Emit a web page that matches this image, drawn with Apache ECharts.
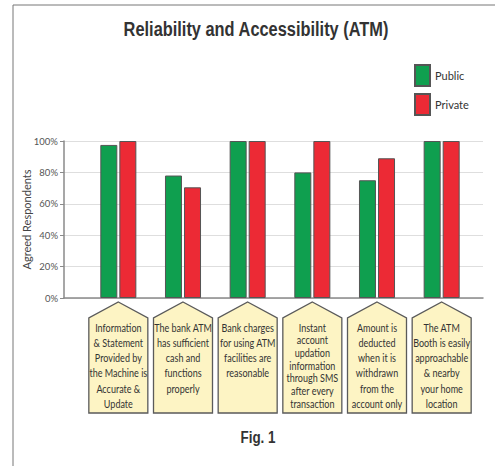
<!DOCTYPE html>
<html>
<head>
<meta charset="utf-8">
<script src="https://cdn.jsdelivr.net/npm/echarts@6/dist/echarts.min.js"></script>
<style>
html,body{margin:0;padding:0;background:#fff;}
#chart{width:497px;height:466px;}
</style>
</head>
<body>
<div id="chart"></div>
<script>
const categories = [
  "Information\n& Statement\nProvided by\nthe Machine is\nAccurate &\nUpdate",
  "The bank ATM\nhas sufficient\ncash and\nfunctions\nproperly",
  "Bank charges\nfor using ATM\nfacilities are\nreasonable",
  "Instant\naccount\nupdation\ninformation\nthrough SMS\nafter every\ntransaction",
  "Amount is\ndeducted\nwhen it is\nwithdrawn\nfrom the\naccount only",
  "The ATM\nBooth is easily\napproachable\n& nearby\nyour home\nlocation"
];
const publicValues = [97.5, 78, 100, 80, 75, 100];
const privateValues = [100, 70.5, 100, 100, 89, 100];
const yTicks = [0, 20, 40, 60, 80, 100];

const GREEN = '#0f9f4f';
const RED = '#ec2a35';
const SANS = "'Liberation Sans',Arial,sans-serif";
const BODY = "Lato,'Open Sans',sans-serif";

const chart = echarts.init(document.getElementById('chart'), null, {renderer: 'svg'});
chart.setOption({
  animation: false,
  backgroundColor: '#fff',
  legend: {
    data: ['Public', 'Private'],
    orient: 'vertical', left: 414, top: 64, padding: 0,
    itemWidth: 15, itemHeight: 21, itemGap: 6,
    icon: 'rect',
    textStyle: {fontFamily: BODY, fontSize: 11, color: '#333'}
  },
  graphic: [
    {type: 'line', shape: {x1: 13, y1: 5, x2: 495, y2: 5}, style: {stroke: '#777', lineWidth: 1}},
    {type: 'line', shape: {x1: 13, y1: 5, x2: 13, y2: 466}, style: {stroke: '#777', lineWidth: 1}},
    {type: 'text', x: 256, y: 29, scaleX: 0.78,
     style: {text: 'Reliability and Accessibility (ATM)', align: 'center', verticalAlign: 'middle',
             fontFamily: SANS, fontSize: 21, fontWeight: 'bold', fill: '#333'}},
    {type: 'text', x: 258, y: 437, scaleX: 0.79,
     style: {text: 'Fig. 1', align: 'center', verticalAlign: 'middle',
             fontFamily: SANS, fontSize: 17, fontWeight: 'bold', fill: '#333'}}
  ],
  grid: [
    {left: 64, top: 141, width: 419, height: 157},
    {left: 86, top: 141, width: 388, height: 157}
  ],
  xAxis: [
    {gridIndex: 0, type: 'value', min: 0, max: 1,
     axisLine: {show: true, lineStyle: {color: '#8a8a8a', width: 1.5}},
     axisTick: {show: false}, axisLabel: {show: false}, splitLine: {show: false}},
    {gridIndex: 1, type: 'category', data: categories,
     axisLine: {show: false}, axisTick: {show: false}, axisLabel: {show: false}}
  ],
  yAxis: [
    {gridIndex: 0, type: 'value', min: yTicks[0], max: yTicks[yTicks.length - 1], interval: 20,
     name: 'Agreed Respondents', nameLocation: 'middle', nameGap: 32, nameMoveOverlap: false,
     nameTextStyle: {fontFamily: BODY, fontSize: 11, color: '#444'},
     axisLine: {show: true, lineStyle: {color: '#8a8a8a', width: 1.5}},
     axisTick: {show: true, length: 4, lineStyle: {color: '#8a8a8a'}},
     axisLabel: {formatter: '{value}%', fontFamily: BODY, fontSize: 9.5, color: '#555', margin: 6},
     splitLine: {show: true, lineStyle: {color: '#dedede', width: 1}}},
    {gridIndex: 1, type: 'value', min: 0, max: 100, show: false}
  ],
  series: [
    {name: 'Public', type: 'bar', xAxisIndex: 1, yAxisIndex: 1, data: publicValues,
     barWidth: 17, barGap: '12%',
     itemStyle: {color: GREEN, borderColor: '#555', borderWidth: 1}},
    {name: 'Private', type: 'bar', xAxisIndex: 1, yAxisIndex: 1, data: privateValues,
     barWidth: 17, barGap: '12%',
     itemStyle: {color: RED, borderColor: '#555', borderWidth: 1}},
    {type: 'custom', xAxisIndex: 1, yAxisIndex: 1, silent: true,
     data: categories.map((c, i) => [i]),
     encode: {x: 0},
     renderItem: function (params, api) {
       const idx = api.value(0);
       const p = api.coord([idx, 0]);
       const half = 29.5;
       const peak = p[1] + 4;
       const shoulder = p[1] + 20;
       const bottom = p[1] + 115;
       const n = categories[idx].split('\n').length;
       const lh = Math.min(15.2, 76 / (n - 1));
       return {
         type: 'group',
         children: [
           {type: 'polygon',
            shape: {points: [[p[0], peak], [p[0] + half, shoulder], [p[0] + half, bottom],
                             [p[0] - half, bottom], [p[0] - half, shoulder]]},
            style: {fill: '#fdf4c4', stroke: '#5a5a5a', lineWidth: 1.3}},
           {type: 'text', x: p[0], y: p[1] + 29.5 - lh / 2, scaleX: 0.86,
            style: {text: categories[idx], align: 'center', verticalAlign: 'top',
                    fontFamily: BODY, fontSize: 10.5, lineHeight: lh, fill: '#333'}}
         ]
       };
     }}
  ]
});
</script>
</body>
</html>
